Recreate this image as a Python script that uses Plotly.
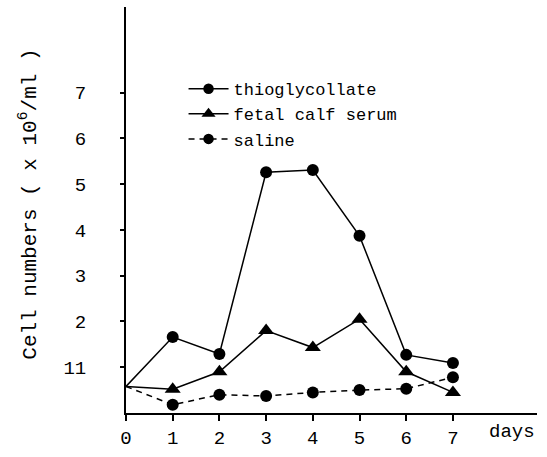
import plotly.graph_objects as go

days = [0, 1, 2, 3, 4, 5, 6, 7]
thioglycollate = [0.58, 1.66, 1.29, 5.26, 5.31, 3.87, 1.27, 1.09]
fetal_calf_serum = [0.58, 0.52, 0.9, 1.8, 1.43, 2.05, 0.9, 0.45]
saline = [0.58, 0.18, 0.4, 0.37, 0.45, 0.5, 0.53, 0.78]
ytick_vals = [1, 2, 3, 4, 5, 6, 7]
ytick_text = ["11", "2", "3", "4", "5", "6", "7"]
xtick_vals = [0, 1, 2, 3, 4, 5, 6, 7]
xtick_text = ["0", "1", "2", "3", "4", "5", "6", "7"]

FONT = "Liberation Mono"
msize = [0] + [12] * 7
tsize = [0] + [14] * 7


def mk(symbol, sizes):
    return dict(symbol=symbol, size=sizes, color="#000000", opacity=1,
                line=dict(width=0, color="#000000"))


fig = go.Figure()
fig.add_trace(go.Scatter(x=days, y=thioglycollate, name="thioglycollate", mode="lines+markers",
                         line=dict(color="black", width=1.5),
                         marker=mk("circle", msize), cliponaxis=False))
fig.add_trace(go.Scatter(x=days, y=fetal_calf_serum, name="fetal calf serum", mode="lines+markers",
                         line=dict(color="black", width=1.5),
                         marker=mk("triangle-up", tsize), cliponaxis=False))
fig.add_trace(go.Scatter(x=days, y=saline, name="saline", mode="lines+markers",
                         line=dict(color="black", width=1.5, dash="6px,5px"),
                         marker=mk("circle", msize), cliponaxis=False))

fig.update_layout(
    width=547, height=457,
    margin=dict(l=126, r=10, t=7, b=39),
    paper_bgcolor="white", plot_bgcolor="white",
    font=dict(family=FONT, size=18, color="black"),
    showlegend=True,
    legend=dict(x=0.14, y=0.842, xanchor="left", yanchor="top",
                font=dict(family=FONT, size=17), itemwidth=40, tracegroupgap=0,
                bgcolor="rgba(0,0,0,0)"),
    xaxis=dict(range=[0, 8.8], tickvals=xtick_vals, ticktext=xtick_text,
               showgrid=False, zeroline=False, showline=True, linecolor="black", linewidth=2,
               ticks="outside", ticklen=6, tickwidth=1.5, tickcolor="black",
               tickfont=dict(family=FONT, size=19)),
    yaxis=dict(range=[0, 8.87], tickvals=ytick_vals, ticktext=ytick_text,
               showgrid=False, zeroline=False, showline=True, linecolor="black", linewidth=2,
               ticks="outside", ticklen=4, tickwidth=1.5, tickcolor="black",
               ticklabelstandoff=30,
               tickfont=dict(family=FONT, size=19)),
    annotations=[
        dict(text="Cell numbers ( x 10<sup>6</sup>/ml )", xref="paper", yref="paper",
             x=-0.236, y=0.513, xanchor="center", yanchor="middle", textangle=-90,
             showarrow=False, font=dict(family=FONT, size=21)),
        dict(text="days", xref="paper", yref="paper", x=1.0, y=0, xanchor="right",
             yanchor="top", yshift=-6, showarrow=False, font=dict(family=FONT, size=19)),
    ],
)

fig.write_html("out.html")
